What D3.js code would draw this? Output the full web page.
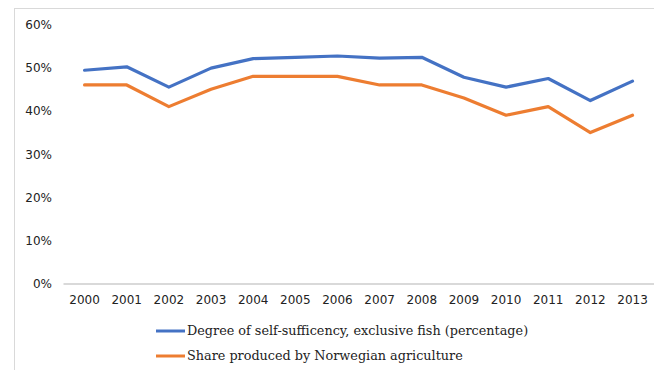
<!DOCTYPE html>
<html>
<head>
<meta charset="utf-8">
<script src="https://cdn.jsdelivr.net/npm/d3@7"></script>
<style>
  html, body { margin: 0; padding: 0; background: #fff; }
  svg { display: block; }
</style>
</head>
<body>
<svg id="chart" width="654" height="370"></svg>
<script>
// Years on the category axis
const years = ["2000","2001","2002","2003","2004","2005","2006","2007","2008","2009","2010","2011","2012","2013"];
// Degree of self-sufficiency, excluding fish (%)
const selfSufficiency = [49.4, 50.2, 45.5, 49.9, 52.1, 52.4, 52.7, 52.2, 52.4, 47.8, 45.5, 47.5, 42.4, 46.9];
// Share produced by Norwegian agriculture (%)
const norwegianShare = [46, 46, 41, 45, 48, 48, 48, 46, 46, 43, 39, 41, 35, 39];
// Value-axis ticks (%)
const yTicks = [0, 10, 20, 30, 40, 50, 60];

const seriesNames = [
  "Degree of self-sufficency, exclusive fish (percentage)",
  "Share produced by Norwegian agriculture"
];
const seriesColors = ["#4472C4", "#ED7D31"];
const seriesData = [selfSufficiency, norwegianShare];

const svg = d3.select("#chart");

// Chart-area frame (extends past the right and bottom edges)
svg.append("rect")
  .attr("x", 14.5).attr("y", 8.5)
  .attr("width", 700).attr("height", 400)
  .attr("fill", "#fff")
  .attr("stroke", "#d9d9d9")
  .attr("stroke-width", 1);

const x = d3.scaleBand().domain(years).range([63.5, 653.6]);
const y = d3.scaleLinear().domain([0, 60]).range([284, 24.4]);

// Baseline at 0%
svg.append("line")
  .attr("x1", 63.5).attr("x2", 654)
  .attr("y1", y(0)).attr("y2", y(0))
  .attr("stroke", "#d9d9d9").attr("stroke-width", 2);

// Value axis labels
const yAxis = d3.axisLeft(y).tickValues(yTicks).tickSize(0).tickPadding(0)
  .tickFormat(d => d + "%");
const yg = svg.append("g").attr("transform", "translate(52,0)").call(yAxis);
yg.select(".domain").remove();
yg.selectAll("text")
  .attr("font-family", "DejaVu Sans, sans-serif")
  .attr("font-size", 12)
  .attr("fill", "#222");

// Category axis labels
const xAxis = d3.axisBottom(x).tickSize(0).tickPadding(0);
const xg = svg.append("g").attr("transform", "translate(0,295)").call(xAxis);
xg.select(".domain").remove();
xg.selectAll("text")
  .attr("font-family", "DejaVu Sans, sans-serif")
  .attr("font-size", 12)
  .attr("fill", "#222");

// Series lines
const line = d3.line()
  .x((d, i) => x(years[i]) + x.bandwidth() / 2)
  .y(d => y(d));

seriesData.forEach((vals, k) => {
  svg.append("path")
    .datum(vals)
    .attr("fill", "none")
    .attr("stroke", seriesColors[k])
    .attr("stroke-width", 3.2)
    .attr("stroke-linejoin", "round")
    .attr("stroke-linecap", "round")
    .attr("d", line);
});

// Legend
const legend = svg.append("g");
seriesNames.forEach((name, k) => {
  const ly = 331 + k * 25;
  legend.append("line")
    .attr("x1", 156).attr("x2", 185)
    .attr("y1", ly).attr("y2", ly)
    .attr("stroke", seriesColors[k]).attr("stroke-width", 3);
  legend.append("text")
    .attr("x", 187).attr("y", ly)
    .attr("dy", "0.35em")
    .attr("font-family", "DejaVu Serif, serif")
    .attr("font-size", 12.8)
    .attr("fill", "#222")
    .text(name);
});
</script>
</body>
</html>
